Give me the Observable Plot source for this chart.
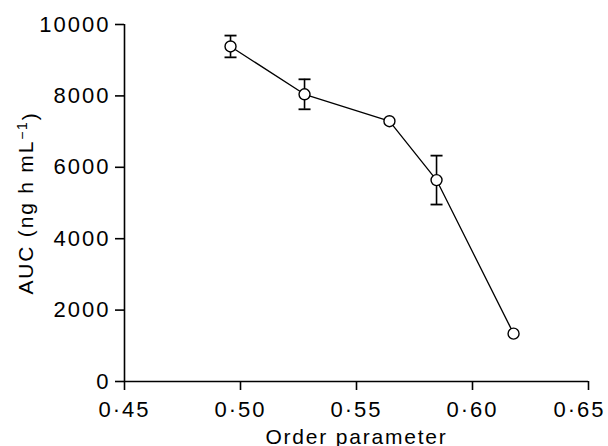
<!DOCTYPE html>
<html>
<head>
<meta charset="utf-8">
<script src="https://cdn.jsdelivr.net/npm/d3@7"></script>
<script src="https://cdn.jsdelivr.net/npm/@observablehq/plot@0.6"></script>
<style>
  html, body { margin: 0; padding: 0; background: #fff; }
  svg text { letter-spacing: 1.8px; font-size: 21px; }
  svg g[aria-label$="tick label"] text { letter-spacing: 2px; font-size: 22px; }
</style>
</head>
<body>
<div id="chart"></div>
<script>
const orderParam = [0.4957, 0.5276, 0.5642, 0.5845, 0.6177];
const auc = [9385, 8045, 7291, 5642, 1341];
const aucErr = [305, 420, 0, 685, 0];
const xTicks = [0.45, 0.50, 0.55, 0.60, 0.65];
const yTicks = [0, 2000, 4000, 6000, 8000, 10000];
const xLabel = "Order parameter";
const yLabelMain = "AUC (ng h mL";
const yLabelSup = "−1";
const yLabelEnd = ")";

const data = orderParam.map((x, i) => ({x, y: auc[i], lo: auc[i] - aucErr[i], hi: auc[i] + aucErr[i], e: aucErr[i]}));
const bars = data.filter(d => d.e > 0);
const capSymbol = {
  draw(context, size) {
    const r = 6;
    context.moveTo(-r, 0);
    context.lineTo(r, 0);
  }
};
const fmtX = d => d3.format(".2f")(d).replace(".", "·");
const lastX = xTicks[xTicks.length - 1];

const chart = Plot.plot({
  width: 608,
  height: 446,
  marginLeft: 124,
  marginRight: 20,
  marginTop: 24,
  marginBottom: 65,
  style: {fontFamily: "'Liberation Sans', Arial, sans-serif", fontSize: "20px", color: "#000", background: "#fff"},
  x: {domain: [0.45, 0.65]},
  y: {domain: [0, 10000]},
  marks: [
    Plot.axisX({ticks: xTicks.slice(0, -1), tickSize: 9, tickPadding: 11, tickFormat: fmtX, label: xLabel, labelAnchor: "center", labelOffset: 62, labelArrow: "none", strokeWidth: 1.6}),
    Plot.axisX({ticks: [lastX], tickSize: 9, tickFormat: () => "", label: null, strokeWidth: 1.6}),
    Plot.axisX({ticks: [lastX], tickSize: 9, tickPadding: 11, tickFormat: fmtX, label: null, dx: -9, strokeOpacity: 0}),
    Plot.axisY({ticks: yTicks, tickSize: 9, tickPadding: 5, tickFormat: d3.format("d"), label: yLabelMain + yLabelSup + yLabelEnd, labelAnchor: "center", labelOffset: 106, labelArrow: "none", strokeWidth: 1.6}),
    Plot.ruleX([0.45], {y1: 0, y2: 10000, stroke: "#000", strokeWidth: 1.6}),
    Plot.ruleY([0], {x1: 0.45, x2: 0.65, stroke: "#000", strokeWidth: 1.6}),
    Plot.ruleX(bars, {x: "x", y1: "lo", y2: "hi", stroke: "#000", strokeWidth: 1.6}),
    Plot.dot(bars, {x: "x", y: "hi", symbol: capSymbol, stroke: "#000", strokeWidth: 1.8, r: 6}),
    Plot.dot(bars, {x: "x", y: "lo", symbol: capSymbol, stroke: "#000", strokeWidth: 1.8, r: 6}),
    Plot.line(data, {x: "x", y: "y", stroke: "#000", strokeWidth: 1.3}),
    Plot.dot(data, {x: "x", y: "y", r: 5.5, fill: "#fff", stroke: "#000", strokeWidth: 1.4})
  ]
});
document.getElementById("chart").appendChild(chart);

// rich y-axis label with superscript
const yl = d3.select(chart).select('g[aria-label="y-axis label"] text');
if (!yl.empty()) {
  yl.text(null);
  yl.append("tspan").text(yLabelMain);
  yl.append("tspan").attr("dy", "-0.45em").style("font-size", "14px").text(yLabelSup);
  yl.append("tspan").attr("dy", "0.45em").text(yLabelEnd);
}
</script>
</body>
</html>
